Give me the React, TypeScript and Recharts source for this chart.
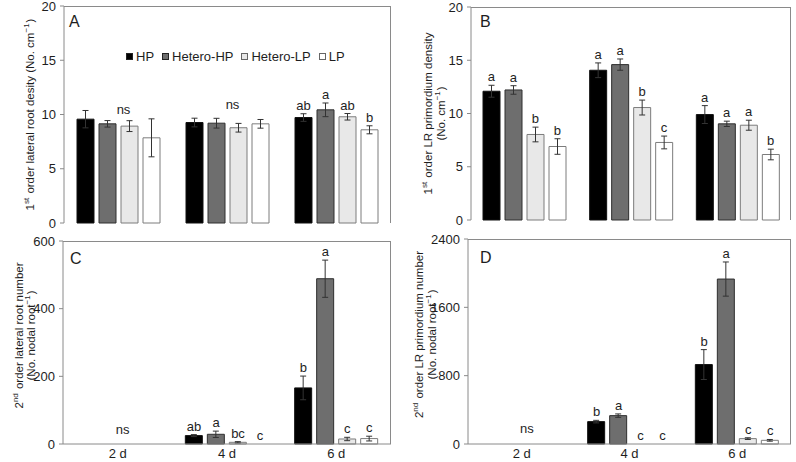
import { ComposedChart, Bar, Line, XAxis, YAxis, ErrorBar, LabelList } from "recharts";

const days = ["2 d", "4 d", "6 d"];
const groups = ["HP", "Hetero-HP", "Hetero-LP", "LP"];
const fills = ["#000000", "#6e6e6e", "#e8e8e8", "#ffffff"];
const edges = ["#111111", "#2e2e2e", "#7c7c7c", "#7c7c7c"];

// rows = treatment, columns = day
const aMean = [[9.57, 9.26, 9.72], [9.14, 9.2, 10.43], [8.93, 8.78, 9.79], [7.85, 9.14, 8.59]];
const aErr = [[0.8, 0.4, 0.35], [0.3, 0.45, 0.63], [0.5, 0.4, 0.3], [1.75, 0.4, 0.37]];
const aSig = [["", "", "ab"], ["ns", "ns", "a"], ["", "", "ab"], ["", "", "b"]];
const aNs = [9.72, 10.18, 0];

const bMean = [[12.09, 14.06, 9.9], [12.21, 14.59, 9.03], [8.03, 10.56, 8.9], [6.9, 7.28, 6.15]];
const bErr = [[0.56, 0.69, 0.84], [0.4, 0.53, 0.25], [0.69, 0.7, 0.47], [0.73, 0.6, 0.5]];
const bSig = [["a", "a", "a"], ["a", "a", "a"], ["b", "b", "a"], ["b", "c", "b"]];
const bNs = [0, 0, 0];

const cMean = [[0, 24.8, 165.8], [0, 28.7, 488.5], [0, 5, 14.8], [0, 0, 16]];
const cErr = [[0, 3, 35], [0, 9.4, 55], [0, 2, 5], [0, 0, 7]];
const cSig = [["", "ab", "b"], ["ns", "a", "a"], ["", "bc", "c"], ["", "c", "c"]];
const cNs = [17, 0, 0];

const dMean = [[0, 262, 930], [0, 332, 1931], [0, 0, 63], [0, 0, 43]];
const dErr = [[0, 15, 175], [0, 20, 200], [0, 0, 10], [0, 0, 10]];
const dSig = [["", "b", "b"], ["ns", "a", "a"], ["", "c", "c"], ["", "c", "c"]];
const dNs = [78, 0, 0];

const FONT = "'Liberation Sans', Arial, sans-serif";
const AXIS = "#8a8a8a";
const INK = "#1e1e1e";
const BAR = 17;
const GAP = 5;

function buildRows(mean: number[][], err: number[][], sig: string[][], ns: number[]) {
  return days.map((day, j) => {
    const row: any = { day };
    groups.forEach((_, i) => {
      row["m" + i] = mean[i][j];
      row["e" + i] = err[i][j];
      const s = sig[i][j];
      row["s" + i] = s;
      row["t" + i] = s ? (s === "ns" ? ns[j] : mean[i][j] + err[i][j]) : null;
    });
    return row;
  });
}

const sup = (t: string) => (
  <>
    <tspan fontSize={8} dy={-4}>{t}</tspan>
    <tspan dy={4}>{"\u200a"}</tspan>
  </>
);

function YTitle({ lines, xs, cy }: any) {
  return (
    <g>
      {lines.map((ln: any, k: number) => (
        <text
          key={k}
          x={xs[k]}
          y={cy}
          transform={`rotate(-90 ${xs[k]} ${cy})`}
          textAnchor="middle"
          dominantBaseline="central"
          fontSize={11.5}
          fill={INK}
          fontFamily={FONT}
        >
          {ln}
        </text>
      ))}
    </g>
  );
}

function Panel(props: any) {
  const { rows, max, ticks, width, height, margin, yWidth, xHeight, showDays, lines, xs, shift = 0 } = props;
  const plotH = height - margin.top - margin.bottom - xHeight;
  const plotL = margin.left + yWidth;
  const plotW = width - plotL - margin.right;
  const cy = margin.top + plotH / 2 + shift;

  const sigLabel = (i: number) => (p: any) => {
    const txt = String(p.value ?? "");
    if (!txt) return null;
    const vb = p.viewBox ?? {};
    const x = p.x ?? vb.x;
    const y = p.y ?? vb.y;
    if (x == null || y == null || isNaN(x) || isNaN(y)) return null;
    const tx = txt === "ns" ? x + 5 : x + (i - 1.5) * (BAR + GAP);
    return (
      <text x={tx} y={y - 4} textAnchor="middle" fontSize={13} fill={INK} fontFamily={FONT}>
        {txt}
      </text>
    );
  };

  return (
    <div style={{ position: "relative", width, height }}>
      <ComposedChart width={width} height={height} data={rows} margin={margin} barSize={BAR} barGap={GAP}>
        <XAxis
          dataKey="day"
          height={xHeight}
          stroke={AXIS}
          tickLine={false}
          tickSize={0}
          tickMargin={5}
          tick={showDays ? { fontSize: 13, fill: INK, fontFamily: FONT } : false}
        />
        <YAxis
          domain={[0, max]}
          ticks={ticks}
          width={yWidth}
          stroke={AXIS}
          tickSize={4}
          tickMargin={4}
          interval={0}
          tick={{ fontSize: 13, fill: INK, fontFamily: FONT }}
          label={<YTitle lines={lines} xs={xs} cy={cy} />}
        />
        {groups.map((g, i) => (
          <Bar key={g} dataKey={"m" + i} name={g} fill={fills[i]} stroke={edges[i]} strokeWidth={1} isAnimationActive={false}>
            <ErrorBar dataKey={"e" + i} width={3} stroke="#333" strokeWidth={1} direction="y" />
          </Bar>
        ))}
        {groups.map((g, i) => (
          <Line
            key={"sig" + g}
            dataKey={"t" + i}
            stroke="none"
            dot={false}
            activeDot={false}
            legendType="none"
            connectNulls={false}
            isAnimationActive={false}
          >
            <LabelList dataKey={"s" + i} content={sigLabel(i)} />
          </Line>
        ))}
      </ComposedChart>
      <div
        style={{
          position: "absolute",
          left: plotL,
          top: margin.top,
          width: plotW,
          height: plotH,
          borderTop: `1px solid ${AXIS}`,
          borderRight: `1px solid ${AXIS}`,
          boxSizing: "border-box",
          pointerEvents: "none",
        }}
      />
    </div>
  );
}

function LegendRow() {
  return (
    <div style={{ position: "absolute", left: 126, top: 49, display: "flex", alignItems: "center", fontFamily: FONT, fontSize: 13, color: INK }}>
      {groups.map((g, i) => (
        <div key={g} style={{ display: "flex", alignItems: "center", marginRight: 8 }}>
          <span
            style={{
              display: "inline-block",
              width: 7,
              height: 7,
              background: fills[i],
              border: `1px solid ${i < 2 ? "#222" : "#666"}`,
              marginRight: 3,
              boxSizing: "border-box",
            }}
          />
          <span>{g}</span>
        </div>
      ))}
    </div>
  );
}

const letter = (t: string, left: number, top: number) => (
  <div style={{ position: "absolute", left, top, fontFamily: FONT, fontSize: 16, lineHeight: "16px", color: INK }}>{t}</div>
);

export default function App() {
  const aLines = [<>1{sup("st")} order lateral root desity (No. cm{sup("\u22121")})</>];
  const bLines = [<>1{sup("st")} order LR primordium density</>, <>(No. cm{sup("\u22121")})</>];
  const cLines = [<>2{sup("nd")} order lateral root number</>, <>(No. nodal root{sup("\u22121")})</>];
  const dLines = [<>2{sup("nd")} order LR primordium number</>, <>(No. nodal root{sup("\u22121")})</>];

  return (
    <div style={{ position: "absolute", left: 0, top: 0, width: 796, height: 462, background: "#fff", overflow: "hidden" }}>
      <div style={{ position: "absolute", left: 0, top: 0 }}>
        <Panel
          rows={buildRows(aMean, aErr, aSig, aNs)}
          max={20}
          ticks={[0, 5, 10, 15, 20]}
          width={400}
          height={230}
          margin={{ top: 6, right: 9, bottom: 7, left: 0 }}
          yWidth={64}
          xHeight={0}
          showDays={false}
          lines={aLines}
          xs={[30]}
        />
      </div>
      <div style={{ position: "absolute", left: 400, top: 0 }}>
        <Panel
          rows={buildRows(bMean, bErr, bSig, bNs)}
          max={20}
          ticks={[0, 5, 10, 15, 20]}
          width={396}
          height={230}
          margin={{ top: 7, right: 5, bottom: 10, left: 0 }}
          yWidth={71}
          xHeight={0}
          showDays={false}
          lines={bLines}
          xs={[27.5, 40.5]}
        />
      </div>
      <div style={{ position: "absolute", left: 0, top: 230 }}>
        <Panel
          rows={buildRows(cMean, cErr, cSig, cNs)}
          max={600}
          ticks={[0, 200, 400, 600]}
          width={400}
          height={232}
          margin={{ top: 11, right: 9, bottom: 0, left: 0 }}
          yWidth={63}
          xHeight={18}
          showDays={true}
          lines={cLines}
          xs={[19, 31]}
          shift={-7}
        />
      </div>
      <div style={{ position: "absolute", left: 400, top: 230 }}>
        <Panel
          rows={buildRows(dMean, dErr, dSig, dNs)}
          max={2400}
          ticks={[0, 800, 1600, 2400]}
          width={396}
          height={232}
          margin={{ top: 9, right: 5, bottom: 0, left: 0 }}
          yWidth={68}
          xHeight={18}
          showDays={true}
          lines={dLines}
          xs={[19, 32]}
          shift={-7}
        />
      </div>
      <LegendRow />
      {letter("A", 69, 14)}
      {letter("B", 480, 14)}
      {letter("C", 70, 251)}
      {letter("D", 480, 250)}
    </div>
  );
}
